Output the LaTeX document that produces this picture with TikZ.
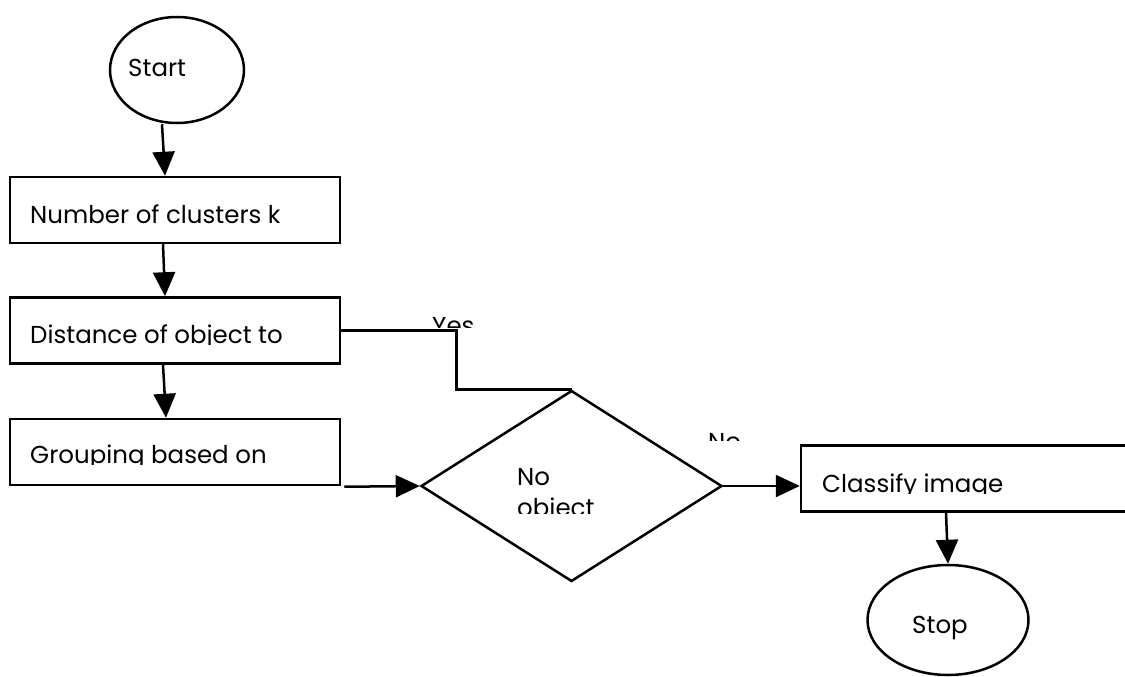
\documentclass[tikz,border=0pt]{standalone}
\usepackage{fontspec}
\setmainfont{Poppins}
\usetikzlibrary{shapes.geometric,arrows.meta}
\begin{document}
\begin{tikzpicture}[x=1pt,y=-1pt,
  box/.style={draw, rectangle, minimum width=330pt, minimum height=66pt, inner sep=0pt, line width=2.5pt},
  term/.style={draw, ellipse, inner sep=0pt, line width=2.5pt},
  dec/.style={draw, diamond, inner sep=0pt, line width=2.5pt},
  conn/.style={-{Triangle[length=24pt,width=22pt]}, line width=2.5pt},
  plain/.style={line width=2.5pt},
  lbl/.style={inner sep=0pt, font=\fontsize{24.5}{28}\selectfont}]
\useasboundingbox (0,0) rectangle (1125,677);
\clip (0,0) rectangle (1125,677);
% shapes
\node[term, minimum width=134pt, minimum height=106pt] (start) at (177,70) {};
\node[box] (b1) at (175,210) {};
\node[box] (b2) at (175,330.5) {};
\node[box] (b3) at (175,452) {};
\node[dec, minimum width=301pt, minimum height=191pt] (dia) at (571.5,486) {};
\node[box] (b4) at (966,478.5) {};
\node[term, minimum width=161pt, minimum height=110pt] (stop) at (948,620) {};
% texts
\node[lbl, anchor=base west] (tstart) at (128,77) {Start};
\node[lbl, anchor=base west] (t1) at (30,223) {Number of clusters k};
\begin{scope}
\clip (0,300) rectangle (340,344);
\node[lbl, anchor=base west] (t2) at (30,343) {Distance of object to};
\end{scope}
\begin{scope}
\clip (0,420) rectangle (340,464);
\node[lbl, anchor=base west] (t3) at (30,463) {Grouping based on};
\end{scope}
\begin{scope}
\clip (400,300) rectangle (500,327);
\node[lbl, anchor=base west] (tyes) at (432,334) {Yes};
\end{scope}
\begin{scope}
\clip (480,450) rectangle (660,513);
\node[lbl, anchor=base west] (tno1) at (517,485) {No};
\node[lbl, anchor=base west] (tobj) at (517,516) {object};
\end{scope}
\begin{scope}
\clip (690,420) rectangle (760,440);
\node[lbl, anchor=base west] (tno2) at (708,450) {No};
\end{scope}
\begin{scope}
\clip (805,450) rectangle (1125,493.5);
\node[lbl, anchor=base west] (t4) at (822,492) {Classify image};
\end{scope}
\node[lbl, anchor=base west] (tstop) at (912,633) {Stop};
% connectors
\draw[conn] ([xshift=-15pt]start.south) -- ([xshift=-10pt]b1.north);
\draw[conn] ([xshift=-12pt]b1.south) -- ([xshift=-10pt]b2.north);
\draw[conn] ([xshift=-12pt]b2.south) -- ([xshift=-9pt]b3.north);
\draw[conn] ([xshift=3pt,yshift=-0.5pt]b3.south east) -- (dia.west);
\draw[plain] (b2.east) -- ++(115,0) |- (dia.north);
\draw[conn] (dia.east) -- (dia.east -| b4.west);
\draw[conn] ([xshift=-20pt]b4.south) -- (stop.north);
\end{tikzpicture}
\end{document}
